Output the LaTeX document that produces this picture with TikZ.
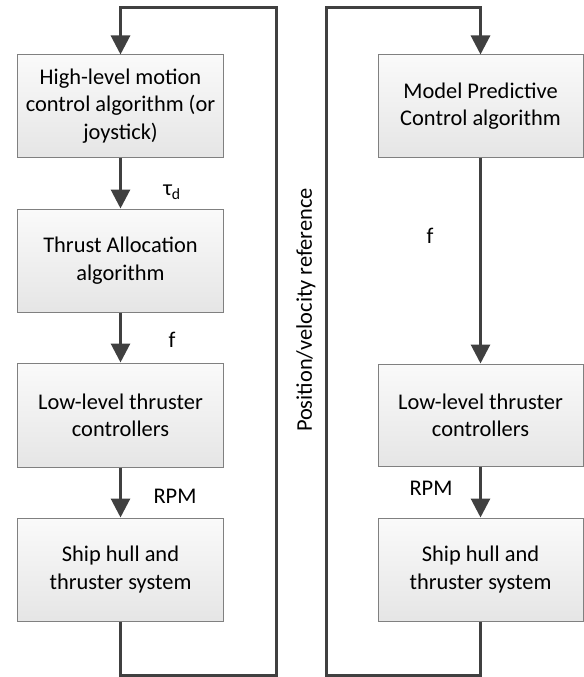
\documentclass[tikz,border=0pt]{standalone}
\usepackage{fontspec}
\setmainfont{Carlito}
\usetikzlibrary{arrows.meta}
\definecolor{linec}{HTML}{404040}
\definecolor{boxborder}{HTML}{808080}
\tikzset{
  blk/.style={draw=boxborder, line width=1bp, top color=white!98!black, bottom color=white!90!black,
    minimum width=205bp, align=center, inner sep=0pt,
    font=\fontsize{22.5}{27.5}\selectfont},
  conn/.style={draw=linec, line width=3bp, -{Triangle[length=19bp,width=19bp]}},
  lbl/.style={font=\fontsize{22.5}{27}\selectfont, inner sep=0pt},
}
\begin{document}
\begin{tikzpicture}[x=1bp,y=-1bp]
\useasboundingbox (0,0) rectangle (584,677);
% left column
\node[blk, minimum height=102bp] (a1) at (120.5,106) {High-level motion\\control algorithm (or\\joystick)};
\node[blk, minimum height=103bp] (a2) at (120.5,260.5) {Thrust Allocation\\algorithm};
\node[blk, minimum height=104bp] (a3) at (120.5,415) {Low-level thruster\\controllers};
\node[blk, minimum height=103bp] (a4) at (120.5,569.5) {Ship hull and\\thruster system};
% right column
\node[blk, minimum height=102bp] (b1) at (480.5,106) {Model Predictive\\Control algorithm};
\node[blk, minimum height=102bp] (b2) at (480.5,415) {Low-level thruster\\controllers};
\node[blk, minimum height=103bp] (b3) at (480.5,569.5) {Ship hull and\\thruster system};
% labels
\node[lbl] (ltau) at (172,192) {τ\textsubscript{d}};
\node[lbl] (lf1) at (172,340) {f};
\node[lbl] (lrpm1) at (175,496) {RPM};
\node[lbl] (lf2) at (430,236) {f};
\node[lbl] (lrpm2) at (431,488) {RPM};
\node[lbl, rotate=90] (lpos) at (306,310) {Position/velocity reference};
% loop coordinates
\coordinate (lb) at (276,675);
\coordinate (lt) at (276,8);
\coordinate (rb) at (326,675);
\coordinate (rt) at (326,8);
% connectors
\draw[conn] (a1) -- (a2);
\draw[conn] (a2) -- (a3);
\draw[conn] (a3) -- (a4);
\draw[conn] (a4.south) |- (lb) -- (lt) -| (a1.north);
\draw[conn] (b1) -- (b2);
\draw[conn] (b2) -- (b3);
\draw[conn] (b3.south) |- (rb) -- (rt) -| (b1.north);
\end{tikzpicture}
\end{document}
